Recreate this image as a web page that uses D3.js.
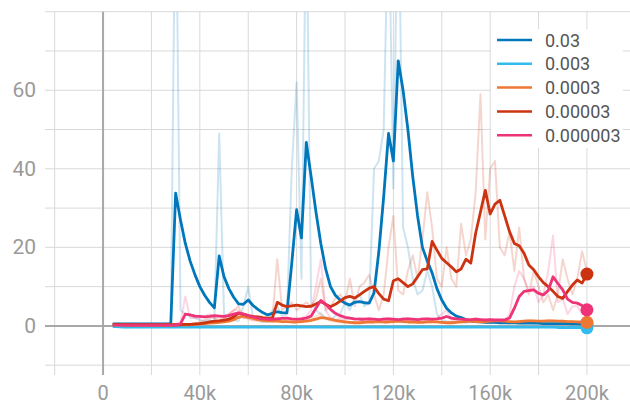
<!DOCTYPE html>
<html>
<head>
<meta charset="utf-8">
<script src="https://cdn.jsdelivr.net/npm/d3@7"></script>
<style>
  body { margin: 0; background: #fff; }
  svg { font-family: Roboto, "Open Sans", sans-serif; }
</style>
</head>
<body>
<div class="wrapper"></div>
<script>
// training steps, in thousands
const stepsK = [4,6,8,10,12,14,16,18,20,22,24,26,28,30,32,34,36,38,40,42,44,46,48,50,52,54,56,58,60,62,64,66,68,70,72,74,76,78,80,82,84,86,88,90,92,94,96,98,100,102,104,106,108,110,112,114,116,118,120,122,124,126,128,130,132,134,136,138,140,142,144,146,148,150,152,154,156,158,160,162,164,166,168,170,172,174,176,178,180,182,184,186,188,190,192,194,196,198,200]

const runNames = ["0.03", "0.003", "0.0003", "0.00003", "0.000003"]
const runColors = ["#0077bb", "#33bbee", "#ee7733", "#cc3311", "#ee3377"]

// smoothed values
const smooth03 = [
  0.5,0.5,0.5,0.5,0.5,0.5,0.5,0.5,0.5,0.5,
  0.5,0.5,0.6,33.8,27,21,16.5,13,10,7.8,
  6,4.6,17.8,12.5,9.5,7.3,5.6,5.5,6.6,5.2,
  4.2,3.4,2.8,3.2,3.6,3.4,3.3,16,29.6,22.4,
  46.7,38,29,21,14.5,10,7.8,6.6,5.8,5.3,
  6,6.2,5.9,5.8,8.4,19,33,49,42,67.5,
  60,50,38,28,20,16.5,13.5,9.5,6.6,4.5,
  3.3,2.5,2.1,1.6,1.3,1.1,1,0.9,0.9,0.9,
  0.8,0.8,0.8,0.8,0.7,0.7,0.7,0.7,0.7,0.6,
  0.6,0.6,0.6,0.6,0.6,0.5,0.5,0.5,0.5]
const smooth003 = [
  -0.2,-0.2,-0.3,-0.3,-0.3,-0.3,-0.3,-0.3,-0.3,-0.3,
  -0.3,-0.3,-0.3,-0.3,-0.3,-0.3,-0.3,-0.3,-0.3,-0.3,
  -0.3,-0.3,-0.3,-0.3,-0.3,-0.3,-0.3,-0.3,-0.3,-0.3,
  -0.3,-0.3,-0.3,-0.3,-0.3,-0.3,-0.3,-0.3,-0.3,-0.3,
  -0.3,-0.3,-0.3,-0.3,-0.3,-0.3,-0.3,-0.3,-0.3,-0.3,
  -0.3,-0.3,-0.3,-0.3,-0.3,-0.3,-0.3,-0.3,-0.3,-0.3,
  -0.3,-0.3,-0.3,-0.3,-0.3,-0.3,-0.3,-0.3,-0.3,-0.3,
  -0.3,-0.3,-0.3,-0.3,-0.3,-0.3,-0.3,-0.3,-0.3,-0.3,
  -0.3,-0.3,-0.3,-0.3,-0.3,-0.3,-0.3,-0.3,-0.3,-0.3,
  -0.3,-0.3,-0.4,-0.4,-0.4,-0.4,-0.4,-0.4,-0.5]
const smooth0003 = [
  0.3,0.3,0.2,0.2,0.2,0.2,0.2,0.2,0.2,0.2,
  0.2,0.2,0.2,0.3,0.3,0.3,0.3,0.4,0.5,0.6,
  0.7,0.8,0.9,1.0,1.2,1.6,2.2,2.5,2.2,1.9,
  1.6,1.4,1.3,1.2,1.2,1.1,1.1,1.0,1.0,1.1,
  1.2,1.4,1.7,2.1,2.0,1.7,1.4,1.2,1.0,0.9,
  0.8,0.8,0.9,1.0,1.0,1.1,1.0,1.0,1.1,1.2,
  1.1,1.0,1.0,0.9,0.9,1.0,1.1,1.0,0.9,0.8,
  0.8,0.9,1.0,1.1,1.2,1.1,1.0,1.1,1.2,1.3,
  1.3,1.2,1.1,1.0,1.1,1.2,1.3,1.3,1.2,1.2,
  1.3,1.3,1.2,1.2,1.1,1.1,1.0,1.0,0.9]
const smooth00003 = [
  0.4,0.4,0.3,0.3,0.3,0.3,0.3,0.3,0.3,0.3,
  0.3,0.3,0.3,0.3,0.3,0.4,0.4,0.5,0.6,0.8,
  1.0,1.2,1.3,1.5,1.7,2.3,3.2,3.0,2.6,2.4,
  2.3,2.1,2.0,2.0,6.0,5.3,4.9,5.1,5.3,5.1,
  4.9,5.0,5.6,6.2,5.5,4.9,5.5,6.3,7.2,7.5,
  7.1,7.9,8.8,9.6,10,8.2,6.8,6.4,11.5,12,
  11,10,10.7,12.5,14.3,14.5,21.5,19.3,17.2,16.1,
  15,13.8,14.5,17,16,23.6,29,34.5,28.5,31,
  32,28,24,21,20.4,18.5,15.5,14.3,12.5,11,
  10,8.8,7.5,7,8.8,10.4,11.7,10.9,13.2]
const smooth000003 = [
  0.2,0.2,0.2,0.2,0.2,0.2,0.2,0.2,0.2,0.2,
  0.2,0.2,0.2,0.2,0.5,3.0,2.8,2.5,2.4,2.3,
  2.4,2.6,2.5,2.4,2.6,3.0,3.3,3.0,2.6,2.3,
  2.0,1.8,1.7,1.7,1.8,1.9,2.0,1.8,1.7,1.8,
  2.0,2.5,4.5,6.5,5.5,4.2,3.2,2.6,2.2,2.0,
  1.8,1.7,1.7,1.8,1.7,1.6,1.7,1.8,1.7,1.6,
  1.7,1.8,1.7,1.6,1.7,1.8,1.7,1.8,2.0,2.4,
  2.0,1.8,1.7,1.6,1.6,1.7,1.6,1.5,1.6,1.5,
  1.5,1.5,2.0,4.5,7.5,8.8,9.0,9.2,8.3,7.9,
  9.0,12.5,10.8,9.2,6.8,6.0,5.8,5.2,4.1]

// raw (unsmoothed) values
const raw03 = [
  0.4,0.6,0.5,0.4,0.6,0.5,0.4,0.5,0.6,0.5,
  0.4,0.5,0.7,120,4,3,2.5,2,1.5,1.2,
  1.5,1,49,3,2,1.5,1.2,5,10,2,
  1.5,1,1,4,5,2.5,3,40,62,12,
  110,6,4,3,2,1.5,2.5,3,6,4,
  7,8,5,6,40,42,50,110,35,120,
  25,20,12,8,9,14,10,3,1.5,1.2,
  1,1,1.2,0.8,1,0.9,1.2,0.8,0.9,0.7,
  0.9,0.8,0.6,0.9,0.7,0.6,0.8,0.6,0.7,0.5,
  0.7,0.6,0.5,0.7,0.5,0.6,0.4,0.5,0.5]
const raw003 = [
  -0.1,-0.4,-0.2,-0.5,-0.3,-0.2,-0.4,-0.3,-0.1,-0.4,
  -0.3,-0.2,-0.4,-0.3,-0.1,-0.4,-0.3,-0.2,-0.5,-0.3,
  -0.2,-0.4,-0.3,-0.1,-0.3,-0.4,-0.2,-0.3,-0.5,-0.2,
  -0.3,-0.1,-0.4,-0.3,-0.2,-0.4,-0.3,-0.2,-0.3,-0.4,
  -0.2,-0.3,-0.1,-0.4,-0.3,-0.2,-0.4,-0.3,-0.2,-0.3,
  -0.4,-0.2,-0.3,-0.1,-0.3,-0.4,-0.2,-0.3,-0.4,-0.2,
  -0.3,-0.2,-0.4,-0.3,-0.1,-0.3,-0.4,-0.2,-0.3,-0.3,
  -0.2,-0.4,-0.3,-0.2,-0.4,-0.3,-0.1,-0.3,-0.4,-0.2,
  -0.3,-0.4,-0.2,-0.3,-0.5,-0.3,-0.2,-0.4,-0.3,-0.2,
  -0.4,-0.3,-0.5,-0.4,-0.3,-0.5,-0.4,-0.3,-0.5]
const raw0003 = [
  0.3,0.2,0.2,0.3,0.2,0.1,0.2,0.3,0.2,0.2,
  0.3,0.2,0.3,0.4,0.3,0.5,0.3,0.6,0.7,0.8,
  0.9,1.0,1.2,1.3,1.8,2.5,3.5,3.0,1.6,1.4,
  1.2,1.1,1.2,1.1,1.3,1.0,1.2,0.9,1.1,1.3,
  1.5,1.8,2.4,3.2,1.8,1.2,1.0,0.9,0.8,0.8,
  0.7,0.9,1.1,1.2,1.0,1.3,0.9,1.1,1.3,1.4,
  1.0,0.9,1.0,0.8,0.9,1.2,1.3,0.9,0.8,0.7,
  0.9,1.0,1.2,1.3,1.4,1.0,0.9,1.3,1.4,1.5,
  1.3,1.1,1.0,0.9,1.3,1.4,1.5,1.3,1.1,1.3,
  1.5,1.4,1.1,1.2,1.0,1.1,0.9,1.0,0.8]
const raw00003 = [
  0.4,0.3,0.3,0.4,0.3,0.2,0.3,0.4,0.3,0.3,
  0.3,0.4,0.3,0.3,0.4,0.5,0.4,0.6,1,1.5,
  2,2,1.5,2,3,4,5,2,2,2,
  2.5,1.5,2,2,17,4,5,6,4,5,
  6,5,7,12,4,5,7,8,6,12,
  5,10,11,13,8,4,8,20,28,9,
  8,14,18,12,22,34,25,12,10,20,
  12,10,26,18,22,34,59,22,40,42,
  20,18,24,14,25,12,8,14,10,6,
  8,4,8,17,12,8,12,19,14]
const raw000003 = [
  0.2,0.3,0.2,0.2,0.3,0.2,0.2,0.2,0.3,0.2,
  0.2,0.3,0.2,0.2,1,7.5,2,2,2,2.5,
  3,2,2.5,2,3,4,4,2,2,1.5,
  1.5,1.5,1.5,2,2,2,2,1.5,1.5,2,
  2.5,4,10,17,4,2,1.5,2,1.5,2,
  1.5,2,1.8,2,1.5,1.5,2,2,1.5,1.5,
  2,2,1.5,1.5,2,2,1.5,2,3,4,
  1.5,1.5,1.8,1.5,1.5,2,1.5,1.2,1.8,1.4,
  1.5,1.5,3,10,14,12,9,10,6,8,
  14,23,6,7,3,5,5,3,3]

const smoothSeries = [smooth03, smooth003, smooth0003, smooth00003, smooth000003]
const rawSeries = [raw03, raw003, raw0003, raw00003, raw000003]

const xTickValues = [0, 40000, 80000, 120000, 160000, 200000]
const yTickValues = [0, 20, 40, 60]

function drawChart() {
    const dimensions = {
        width: 630,
        height: 406,
        plotLeft: 45,
        plotRight: 630,
        plotTop: 11.7,
        plotBottom: 375,
    }

    const xScale = d3.scaleLinear()
        .domain([-24000, 217800])
        .range([dimensions.plotLeft, dimensions.plotRight])
    const yScale = d3.scaleLinear()
        .domain([-12.5, 80])
        .range([dimensions.plotBottom, dimensions.plotTop])

    const wrapper = d3.select(".wrapper")
        .append("svg")
        .attr("width", dimensions.width)
        .attr("height", dimensions.height)

    wrapper.append("defs").append("clipPath")
        .attr("id", "plot-clip")
        .append("rect")
        .attr("x", dimensions.plotLeft)
        .attr("y", dimensions.plotTop)
        .attr("width", dimensions.plotRight - dimensions.plotLeft)
        .attr("height", dimensions.plotBottom - dimensions.plotTop)

    // grid
    const grid = wrapper.append("g")
    grid.selectAll(".hgrid")
        .data(d3.range(-10, 81, 10))
        .enter().append("line")
        .attr("x1", dimensions.plotLeft)
        .attr("x2", dimensions.plotRight)
        .attr("y1", d => yScale(d))
        .attr("y2", d => yScale(d))
        .attr("stroke", "#d9d9d9")
        .attr("stroke-width", 1)
    grid.selectAll(".vgrid")
        .data(d3.range(-20000, 200001, 20000))
        .enter().append("line")
        .attr("x1", d => xScale(d))
        .attr("x2", d => xScale(d))
        .attr("y1", dimensions.plotTop)
        .attr("y2", dimensions.plotBottom)
        .attr("stroke", "#d9d9d9")
        .attr("stroke-width", 1)

    // zero axes
    grid.append("line")
        .attr("x1", dimensions.plotLeft)
        .attr("x2", dimensions.plotRight)
        .attr("y1", yScale(0))
        .attr("y2", yScale(0))
        .attr("stroke", "#a8a8a8")
        .attr("stroke-width", 2)
    grid.append("line")
        .attr("x1", xScale(0))
        .attr("x2", xScale(0))
        .attr("y1", dimensions.plotTop)
        .attr("y2", dimensions.plotBottom)
        .attr("stroke", "#a8a8a8")
        .attr("stroke-width", 2)

    // tick labels
    wrapper.selectAll(".y-label")
        .data(yTickValues)
        .enter().append("text")
        .attr("x", 36)
        .attr("y", d => yScale(d))
        .attr("text-anchor", "end")
        .attr("dominant-baseline", "central")
        .attr("fill", "#9a9a9a")
        .style("font-size", "21px")
        .text(d => d)
    wrapper.selectAll(".x-label")
        .data(xTickValues)
        .enter().append("text")
        .attr("x", d => xScale(d))
        .attr("y", 393)
        .attr("text-anchor", "middle")
        .attr("dominant-baseline", "central")
        .attr("fill", "#9a9a9a")
        .style("font-size", "20px")
        .text(d => d === 0 ? "0" : d / 1000 + "k")

    const lineGenerator = d3.line()
        .x((d, i) => xScale(stepsK[i] * 1000))
        .y(d => yScale(d))

    const plot = wrapper.append("g")
        .attr("clip-path", "url(#plot-clip)")

    rawSeries.forEach((values, i) => {
        plot.append("path")
            .attr("d", lineGenerator(values))
            .attr("fill", "none")
            .attr("stroke", runColors[i])
            .attr("stroke-opacity", 0.2)
            .attr("stroke-width", 2)
            .attr("stroke-linejoin", "round")
    })
    smoothSeries.forEach((values, i) => {
        plot.append("path")
            .attr("d", lineGenerator(values))
            .attr("fill", "none")
            .attr("stroke", runColors[i])
            .attr("stroke-width", 2.8)
            .attr("stroke-linejoin", "round")
    })
    smoothSeries.forEach((values, i) => {
        const last = values.length - 1
        plot.append("circle")
            .attr("cx", xScale(stepsK[last] * 1000))
            .attr("cy", yScale(values[last]))
            .attr("r", 6.5)
            .attr("fill", runColors[i])
    })

    // legend
    const legend = wrapper.append("g")
    legend.append("rect")
        .attr("x", 491)
        .attr("y", 29)
        .attr("width", 132)
        .attr("height", 119)
        .attr("fill", "#fff")
    const rows = legend.selectAll(".legend-row")
        .data(runNames)
        .enter().append("g")
        .attr("transform", (d, i) => `translate(0, ${40 + i * 23.8})`)
    rows.append("line")
        .attr("x1", 497)
        .attr("x2", 532)
        .attr("stroke", (d, i) => runColors[i])
        .attr("stroke-width", 2.5)
    rows.append("text")
        .attr("x", 545)
        .attr("dominant-baseline", "central")
        .attr("fill", "#555")
        .style("font-size", "18px")
        .text(d => d)
}

drawChart()
</script>
</body>
</html>
